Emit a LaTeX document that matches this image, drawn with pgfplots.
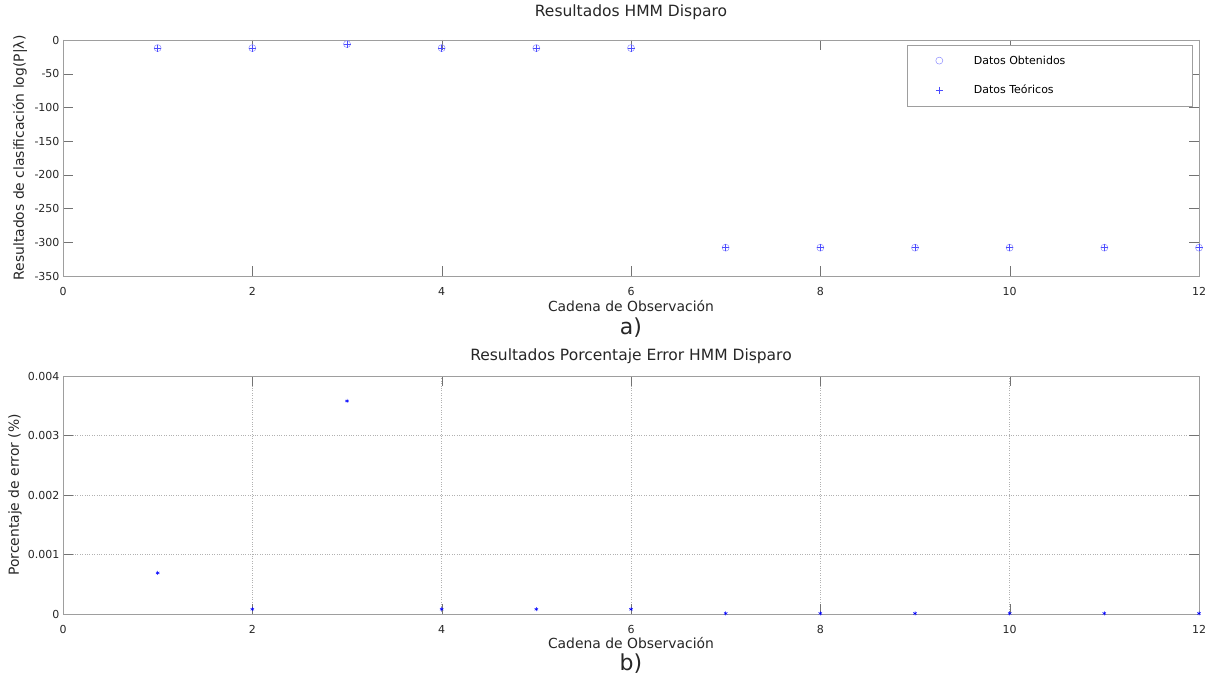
\documentclass[border=0pt]{standalone}
\usepackage{fontspec}
\setmainfont{DejaVu Sans}
\usepackage{pgfplots}
\pgfplotsset{compat=1.18}
\definecolor{frame}{gray}{0.62}
\definecolor{obt}{rgb}{0.55,0.55,1}
\definecolor{teo}{rgb}{0.3,0.3,1}
\pgfplotsset{
  mystyle/.style={
    scale only axis, width=1136pt, anchor=south west,
    xmin=0, xmax=12, xtick={0,2,...,12},
    axis line style={frame}, tick align=inside,
    major tick length=10pt, tick style={black!55},
    tick label style={font=\fontsize{11}{13}\selectfont, text=black!85},
    xticklabel style={yshift=-8pt},
    label style={font=\fontsize{13.9}{16}\selectfont, text=black!85},
    title style={font=\fontsize{15.5}{18}\selectfont, at={(0.5,1)}, anchor=center, text=black!85},
    /pgf/number format/assume math mode=true,
    scaled y ticks=false,
    clip=false,
    xlabel style={at={(0.5,0)}, anchor=center},
  }
}
\begin{document}
\begin{tikzpicture}[x=1pt,y=1pt]
\path[use as bounding box] (0,0) rectangle (1209,681);
% top axis
\begin{axis}[mystyle,
  at={(63pt,405pt)}, height=236pt,
  ymin=-350, ymax=0, ytick={-350,-300,...,0},
  title={Resultados HMM Disparo}, title style={yshift=22pt},
  xlabel={Cadena de Observación}, xlabel style={yshift=-30pt},
  ylabel={Resultados de clasificación log(P|λ)},
  ylabel style={at={(-0.0379,0.5)}, anchor=center},
  legend style={at={(1,1)}, anchor=north east, xshift=-7pt, yshift=-5pt,
    draw=frame, font=\fontsize{11}{13}\selectfont, row sep=15.5pt,
    inner xsep=29pt, inner ysep=8.5pt, legend cell align=left},
  /tikz/every odd column/.append style={column sep=29pt},
]
\addplot[only marks, mark=o, mark size=3.5pt, color=obt, mark options={line width=0.5pt}] coordinates {
(1,-12) (2,-12) (3,-6) (4,-12) (5,-12) (6,-12)
(7,-308) (8,-308) (9,-308) (10,-308) (11,-308) (12,-308)};
\addlegendentry{\makebox[187pt][l]{Datos Obtenidos}}
\addplot[only marks, mark=+, mark size=3.5pt, color=teo, mark options={line width=0.4pt}] coordinates {
(1,-12) (2,-12) (3,-6) (4,-12) (5,-12) (6,-12)
(7,-308) (8,-308) (9,-308) (10,-308) (11,-308) (12,-308)};
\addlegendentry{\makebox[187pt][l]{Datos Teóricos}}
\node[font=\fontsize{22}{24}\selectfont, text=black!85] at (rel axis cs:0.5,0) [yshift=-52pt] {a)};
\end{axis}
% bottom axis
\begin{axis}[mystyle,
  at={(63pt,67pt)}, height=238pt,
  ymin=0, ymax=0.004, ytick={0,0.001,0.002,0.003,0.004},
  yticklabels={0,0.001,0.002,0.003,0.004},
  grid=major, major grid style={dotted, black!30},
  title={Resultados Porcentaje Error HMM Disparo}, title style={yshift=14pt},
  xlabel={Cadena de Observación}, xlabel style={yshift=-29pt},
  ylabel={Porcentaje de error (\%)},
  ylabel style={at={(-0.0423,0.5)}, anchor=center},
]
\addplot[only marks, mark=asterisk, mark size=2pt, color=blue, mark options={line width=0.5pt}] coordinates {
(1,0.00069) (2,0.00008) (3,0.00358) (4,0.00008) (5,0.00008) (6,0.00008)
(7,0.00001) (8,0.00001) (9,0.00001) (10,0.00001) (11,0.00001) (12,0.00001)};
\node[font=\fontsize{22}{24}\selectfont, text=black!85] at (rel axis cs:0.5,0) [yshift=-50pt] {b)};
\end{axis}
\end{tikzpicture}
\end{document}
